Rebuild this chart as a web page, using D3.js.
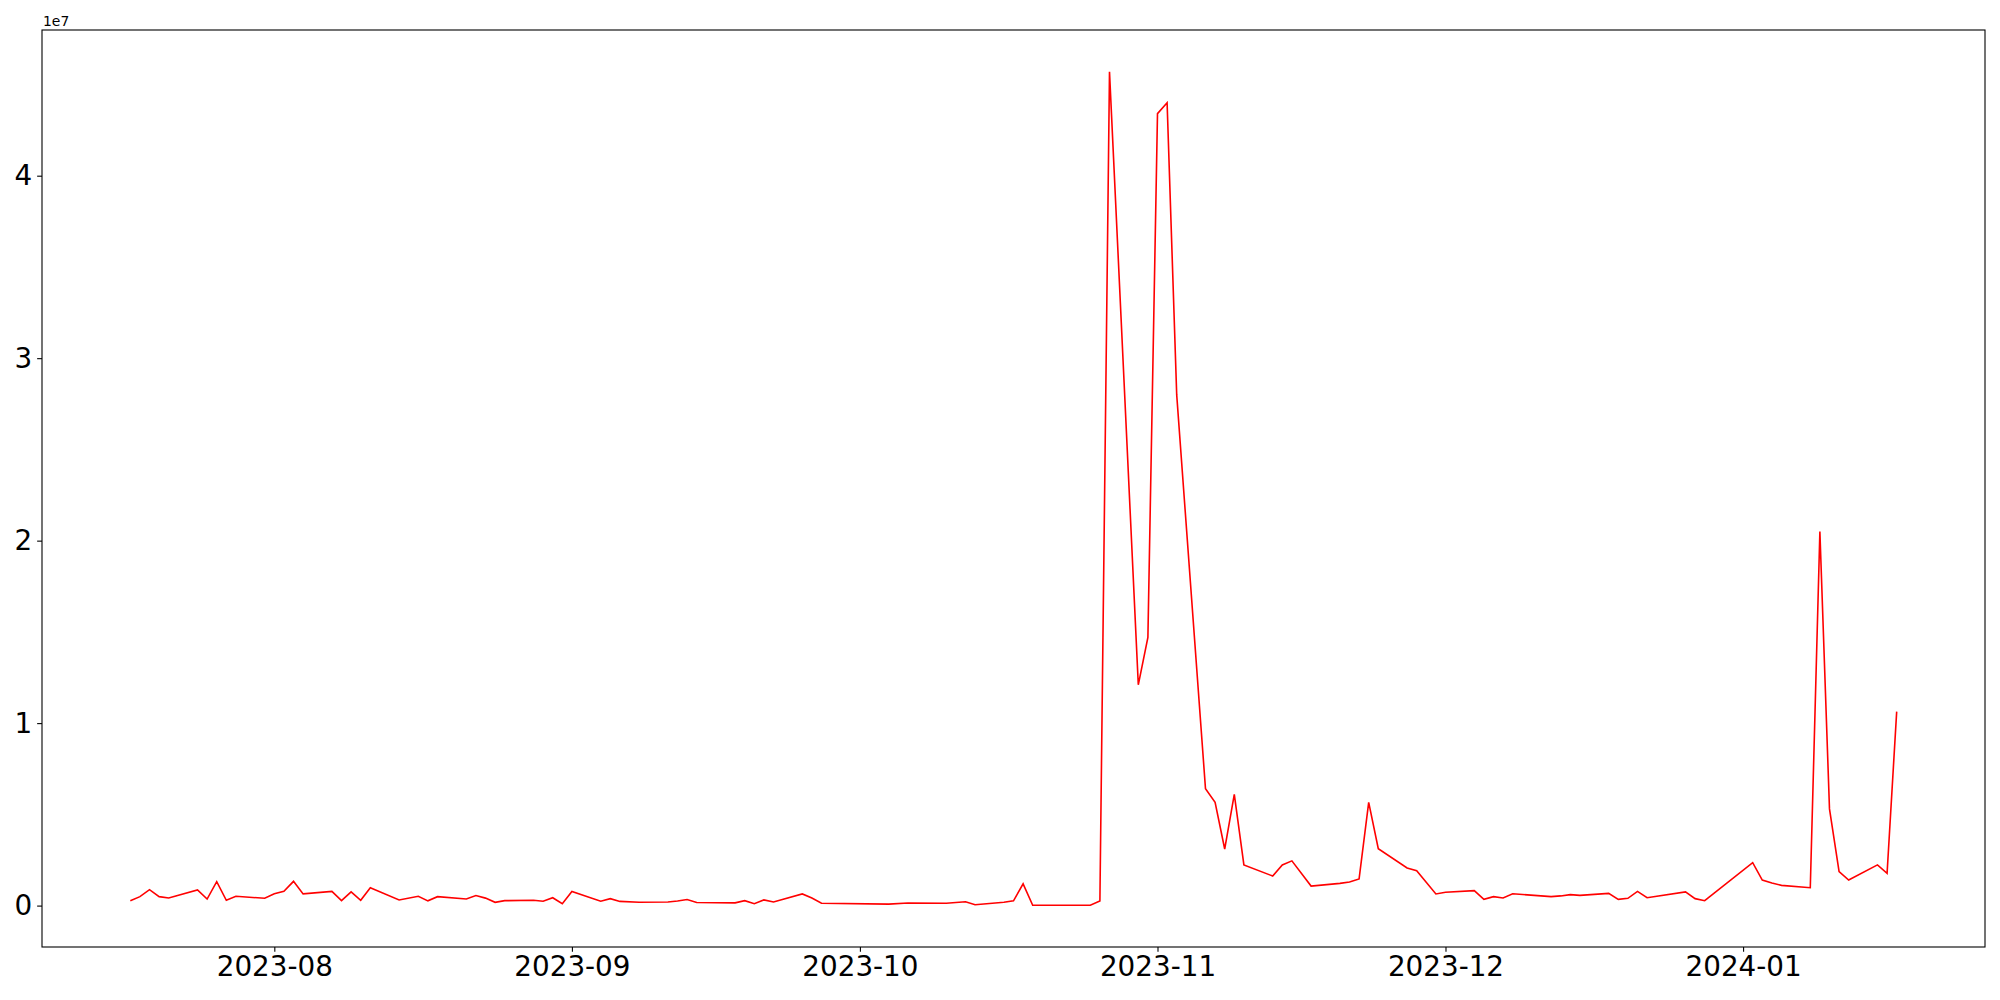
<!DOCTYPE html>
<html>
<head>
<meta charset="utf-8">
<script src="https://cdn.jsdelivr.net/npm/d3@7"></script>
<style>
  body { margin: 0; background: #fff; }
  svg { display: block; font-family: "DejaVu Sans", sans-serif; }
</style>
</head>
<body>
<div id="chart"></div>
<script>
// data
const dates = [
  "2023-07-17","2023-07-18","2023-07-19","2023-07-20","2023-07-21","2023-07-24","2023-07-25","2023-07-26",
  "2023-07-27","2023-07-28","2023-07-31","2023-08-01","2023-08-02","2023-08-03","2023-08-04","2023-08-07",
  "2023-08-08","2023-08-09","2023-08-10","2023-08-11","2023-08-14","2023-08-16","2023-08-17","2023-08-18",
  "2023-08-21","2023-08-22","2023-08-23","2023-08-24","2023-08-25","2023-08-28","2023-08-29","2023-08-30",
  "2023-08-31","2023-09-01","2023-09-04","2023-09-05","2023-09-06","2023-09-08","2023-09-11","2023-09-12",
  "2023-09-13","2023-09-14","2023-09-18","2023-09-19","2023-09-20","2023-09-21","2023-09-22","2023-09-25",
  "2023-09-26","2023-09-27","2023-10-04","2023-10-06","2023-10-10","2023-10-12","2023-10-13","2023-10-16",
  "2023-10-17","2023-10-18","2023-10-19","2023-10-25","2023-10-26","2023-10-27","2023-10-30","2023-10-31",
  "2023-11-01","2023-11-02","2023-11-03","2023-11-06","2023-11-07","2023-11-08","2023-11-09","2023-11-10",
  "2023-11-13","2023-11-14","2023-11-15","2023-11-17","2023-11-20","2023-11-21","2023-11-22","2023-11-23",
  "2023-11-24","2023-11-27","2023-11-28","2023-11-30","2023-12-01","2023-12-04","2023-12-05","2023-12-06",
  "2023-12-07","2023-12-08","2023-12-12","2023-12-13","2023-12-14","2023-12-15","2023-12-18","2023-12-19",
  "2023-12-20","2023-12-21","2023-12-22","2023-12-26","2023-12-27","2023-12-28","2024-01-02","2024-01-03",
  "2024-01-04","2024-01-05","2024-01-08","2024-01-09","2024-01-10","2024-01-11","2024-01-12","2024-01-15",
  "2024-01-16","2024-01-17"
];
const values = [
  270000, 490000, 870000, 490000, 420000, 860000, 360000, 1310000,
  290000, 510000, 400000, 650000, 780000, 1330000, 640000, 780000,
  270000, 750000, 290000, 980000, 310000, 510000, 260000, 490000,
  360000, 550000, 410000, 180000, 270000, 290000, 240000, 430000,
  100000, 770000, 240000, 380000, 230000, 180000, 200000, 250000,
  330000, 170000, 150000, 270000, 100000, 310000, 200000, 640000,
  420000, 130000, 80000, 140000, 130000, 210000, 50000, 180000,
  260000, 1190000, 15000, 15000, 250000, 45700000, 12100000, 14700000,
  43400000, 44000000, 28000000, 6400000, 5660000, 3100000, 6100000, 2230000,
  1620000, 2230000, 2450000, 1070000, 1220000, 1290000, 1460000, 5660000,
  3120000, 2060000, 1910000, 640000, 730000, 820000, 340000, 490000,
  420000, 650000, 490000, 530000, 600000, 560000, 670000, 340000,
  400000, 780000, 430000, 750000, 380000, 270000, 2350000, 1400000,
  1240000, 1110000, 980000, 20500000, 5300000, 1860000, 1400000, 2230000,
  1770000, 10630000
];
const xTicks = ["2023-08-01","2023-09-01","2023-10-01","2023-11-01","2023-12-01","2024-01-01"];
const xTickLabels = ["2023-08","2023-09","2023-10","2023-11","2023-12","2024-01"];
const yTicks = [0, 1e7, 2e7, 3e7, 4e7];
const yTickLabels = ["0","1","2","3","4"];

const width = 2000, height = 1000;
const margin = { left: 42, right: 1985, top: 30, bottom: 947 };
const tickLen = 4.86, tickPad = 4.86;

const parse = d3.timeParse("%Y-%m-%d");
const data = dates.map((d, i) => ({ date: parse(d), value: values[i] }));

// matplotlib-style 5% margins
const xExt = d3.extent(data, d => d.date);
const xPad = (xExt[1] - xExt[0]) * 0.05;
const yExt = d3.extent(data, d => d.value);
const yPad = (yExt[1] - yExt[0]) * 0.05;

const x = d3.scaleTime()
  .domain([new Date(+xExt[0] - xPad), new Date(+xExt[1] + xPad)])
  .range([margin.left, margin.right]);
const y = d3.scaleLinear()
  .domain([yExt[0] - yPad, yExt[1] + yPad])
  .range([margin.bottom, margin.top]);

const svg = d3.select("#chart").append("svg")
  .attr("width", width)
  .attr("height", height);

svg.append("rect")
  .attr("width", width).attr("height", height)
  .attr("fill", "#fff");

const line = d3.line()
  .x(d => x(d.date))
  .y(d => y(d.value));

svg.append("path")
  .datum(data)
  .attr("d", line)
  .attr("fill", "none")
  .attr("stroke", "#ff0000")
  .attr("stroke-width", 1.6)
  .attr("stroke-linejoin", "miter");

// x axis
const xAxis = d3.axisBottom(x)
  .tickValues(xTicks.map(parse))
  .tickFormat((d, i) => xTickLabels[i])
  .tickSize(tickLen)
  .tickPadding(tickPad);

const gx = svg.append("g")
  .attr("transform", `translate(0,${margin.bottom})`)
  .call(xAxis);
gx.select(".domain").remove();
gx.selectAll("line").attr("stroke", "#000").attr("stroke-width", 1.1);
gx.selectAll("text")
  .attr("fill", "#000")
  .attr("font-size", "27.8px")
  .attr("font-family", "DejaVu Sans");

// y axis
const yAxis = d3.axisLeft(y)
  .tickValues(yTicks)
  .tickFormat((d, i) => yTickLabels[i])
  .tickSize(tickLen)
  .tickPadding(tickPad);

const gy = svg.append("g")
  .attr("transform", `translate(${margin.left},0)`)
  .call(yAxis);
gy.select(".domain").remove();
gy.selectAll("line").attr("stroke", "#000").attr("stroke-width", 1.1);
gy.selectAll("text")
  .attr("fill", "#000")
  .attr("font-size", "27.8px")
  .attr("font-family", "DejaVu Sans");

// frame
svg.append("rect")
  .attr("x", margin.left).attr("y", margin.top)
  .attr("width", margin.right - margin.left).attr("height", margin.bottom - margin.top)
  .attr("fill", "none")
  .attr("stroke", "#000")
  .attr("stroke-width", 1.1);

// offset text
svg.append("text")
  .attr("x", margin.left + 1)
  .attr("y", margin.top - 4)
  .attr("font-size", "13.9px")
  .attr("fill", "#000")
  .text("1e7");
</script>
</body>
</html>
